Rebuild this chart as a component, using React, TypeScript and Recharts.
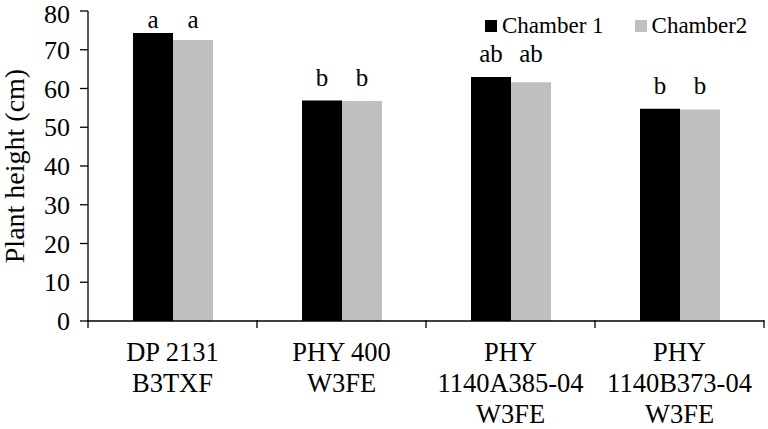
import { BarChart, Bar, XAxis, YAxis, LabelList } from 'recharts'

// Data
const cultivars = ['DP 2131\nB3TXF', 'PHY 400\nW3FE', 'PHY\n1140A385-04\nW3FE', 'PHY\n1140B373-04\nW3FE']
const chamber1 = [74.3, 56.9, 63.0, 54.8]
const chamber2 = [72.5, 56.8, 61.6, 54.6]
const letters1 = ['a', 'b', 'ab', 'b']
const letters2 = ['a', 'b', 'ab', 'b']
const yTicks = [0, 10, 20, 30, 40, 50, 60, 70, 80]

const FONT = "'Liberation Serif', 'DejaVu Serif', serif"

const data = cultivars.map((name, i) => ({
    name,
    c1: chamber1[i],
    c2: chamber2[i],
    l1: letters1[i],
    l2: letters2[i],
    top: Math.max(chamber1[i], chamber2[i])
}))

// X tick: multi-line label, tick marks at the category boundaries
const CatTick = ({ x, y, payload, index, visibleTicksCount }: any) => {
    const half = payload.offset || 84.5
    const lines = String(payload.value).split('\n')
    return (
        <g>
            <line x1={x - half} x2={x - half} y1={y - 9} y2={y - 1} stroke="#000" strokeWidth={1.3} />
            {index === visibleTicksCount - 1 && (
                <line x1={x + half} x2={x + half} y1={y - 9} y2={y - 1} stroke="#000" strokeWidth={1.3} />
            )}
            <text x={x} y={y + 32} textAnchor="middle" style={{ fontFamily: FONT }} fontSize={26.5} fill="#000">
                {lines.map((l, i) => (
                    <tspan key={i} x={x} dy={i === 0 ? 0 : 31}>{l}</tspan>
                ))}
            </text>
        </g>
    )
}

// Y tick label; the top one is nudged so it stays inside the picture
const NumTick = ({ x, y, payload }: any) => (
    <text x={x} y={Math.max(y, 14) + 9} textAnchor="end" style={{ fontFamily: FONT }} fontSize={26} fill="#000">
        {payload.value}
    </text>
)

// significance letters placed above the taller bar of each pair
const makeLetter = (series: 'c1' | 'c2') => (props: any) => {
    const { x, y, width, height, value, index } = props
    const row = data[index]
    const v = row[series]
    const pxPerUnit = height / v
    const yTop = y + height - row.top * pxPerUnit
    return (
        <text x={x + width / 2} y={Math.max(yTop - 15, 28)} textAnchor="middle" style={{ fontFamily: FONT }} fontSize={25} fill="#000">
            {value}
        </text>
    )
}

const YLabel = ({ viewBox }: any) => {
    const cy = viewBox.y + viewBox.height / 2
    return (
        <text x={24} y={cy} transform={`rotate(-90 24 ${cy})`} textAnchor="middle" style={{ fontFamily: FONT }} fontSize={28} fill="#000">
            Plant height (cm)
        </text>
    )
}

const sq = (c: string) => ({ width: 12, height: 12, background: c, display: 'inline-block', marginRight: 5 })

export default function App() {
    return (
        <div style={{ position: 'absolute', left: 0, top: 0, background: '#fff', width: 768, height: 429, fontFamily: FONT }}>
            <BarChart
                width={768}
                height={429}
                data={data}
                margin={{ top: 11, right: 4, left: 0, bottom: 0 }}
                barGap={0}
                barSize={40}
                style={{ fontFamily: FONT }}
            >
                <XAxis
                    dataKey="name"
                    xAxisId="x"
                    height={108}
                    interval={0}
                    tickLine={false}
                    axisLine={{ stroke: '#000', strokeWidth: 1.3 }}
                    tick={<CatTick />}
                />
                <XAxis xAxisId="top" orientation="top" dataKey="name" height={0} tick={false} tickLine={false} axisLine={{ stroke: '#000', strokeWidth: 1.3 }} />
                <YAxis
                    yAxisId="y"
                    width={88}
                    domain={[0, 80]}
                    ticks={yTicks}
                    interval={0}
                    tickSize={8}
                    tickMargin={10}
                    axisLine={{ stroke: '#000', strokeWidth: 1.3 }}
                    tickLine={{ stroke: '#000', strokeWidth: 1.3 }}
                    tick={<NumTick />}
                    label={<YLabel />}
                />
                <YAxis yAxisId="r" orientation="right" width={0} domain={[0, 80]} tick={false} tickLine={false} axisLine={{ stroke: '#000', strokeWidth: 1.3 }} />
                <Bar dataKey="c1" name="Chamber 1" xAxisId="x" yAxisId="y" fill="#000" isAnimationActive={false}>
                    <LabelList dataKey="l1" content={makeLetter('c1')} />
                </Bar>
                <Bar dataKey="c2" name="Chamber2" xAxisId="x" yAxisId="y" fill="#bfbfbf" isAnimationActive={false}>
                    <LabelList dataKey="l2" content={makeLetter('c2')} />
                </Bar>
            </BarChart>
            <div style={{ position: 'absolute', top: 13, left: 485, display: 'flex', alignItems: 'center', fontSize: 23, lineHeight: '26px', color: '#000' }}>
                <span style={sq('#000')} />
                <span style={{ marginRight: 31 }}>Chamber 1</span>
                <span style={sq('#bfbfbf')} />
                <span>Chamber2</span>
            </div>
        </div>
    )
}
